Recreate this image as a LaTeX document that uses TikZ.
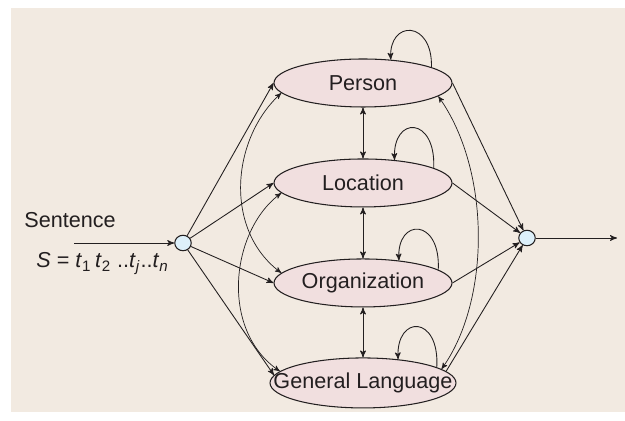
\documentclass[tikz,border=0pt]{standalone}
\usepackage{fontspec}
\setmainfont{Liberation Sans}
\usetikzlibrary{arrows,positioning,shapes.geometric}
\definecolor{bgbeige}{RGB}{242,234,225}
\definecolor{tagpink}{RGB}{241,223,223}
\definecolor{dotblue}{RGB}{221,240,250}
\definecolor{inkgray}{RGB}{35,31,32}

\begin{document}
\begin{tikzpicture}[>=stealth',x=0.02cm,y=-0.02cm,node distance=2cm,on grid,
  every node/.style={font=\fontsize{12.3}{14}\selectfont,text=inkgray},
  tag/.style={ellipse,draw=inkgray,line width=0.6pt,fill=tagpink,
    minimum width=3.56cm,minimum height=0.96cm,inner sep=0pt},
  junction/.style={ellipse,draw=inkgray,line width=0.6pt,fill=dotblue,
    minimum width=0.33cm,minimum height=0.31cm,inner sep=0pt}]
  \fill[bgbeige] (11,8) rectangle (625,412);
  \useasboundingbox (0,0) rectangle (625,421);

  \node[tag]          (P) at (363,83)      {Person};
  \node[tag]          (L) [below =of P]    {Location};
  \node[tag]          (O) [below =of L]    {Organization};
  \node[tag, minimum width=3.72cm, minimum height=1cm]
                      (G) [below =of O]    {\makebox[2cm]{General Language}};
  \node[junction]     (S) at (183,243)     {};
  \node[junction]     (E) at (527,238)     {};
  \coordinate         (s0) at (74,243);
  \coordinate         (e0) at (617,238);
  \node               (sent) at (70,220)   {Sentence};
  \node[anchor=base]  (expr) at (102.5,268)
    {\textit{S} = \textit{t}\textsubscript{1}\,\textit{t}\textsubscript{2}
     ..\textit{t}\textsubscript{\textit{j}}..\textit{t}\textsubscript{\textit{n}}};

\tikzset{flow/.style={->,line width=0.5pt,draw=inkgray}}
\tikzset{both/.style={<->,line width=0.5pt,draw=inkgray}}
\tikzset{long/.style={<->,line width=0.4pt,draw=inkgray}}
\path (s0)    edge [flow] (S)
      (S)     edge [flow] (P.west)
      (S)     edge [flow] (L.west)
      (S)     edge [flow] (O.west)
      (S)     edge [flow] (G.175)
      (P.east) edge [flow] (E)
      (L.east) edge [flow] (E)
      (O.east) edge [flow] (E)
      (G.8)   edge [flow] (E)
      (E)     edge [flow] (e0)
      (P)     edge [both] (L)
      (L)     edge [both] (O)
      (O)     edge [both] (G);

% self loops
\draw [flow] (P.13) .. controls +(1.3,-47.4) and +(-2,-40) .. (P.40);
\draw [flow] (L.12) .. controls +(2.2,-51.9) and +(-2,-44.5) .. (L.36);
\draw [flow] (O.10) .. controls +(2.5,-52) and +(-2.3,-43) .. (O.32);
\draw [flow] (G.12) .. controls +(3,-52.5) and +(-2,-44.7) .. (G.34);

% long bends
\draw [long] (P.187) .. controls +(-50,46) and +(-57.6,-43) .. (O.173);
\draw [long] (L.187) .. controls +(-50.6,37.6) and +(-60.5,-41.4) .. (G.172);
\draw [long] (P.-10) .. controls +(52.5,74) and +(49.3,-69.3) .. (G.10);
\end{tikzpicture}
\end{document}
